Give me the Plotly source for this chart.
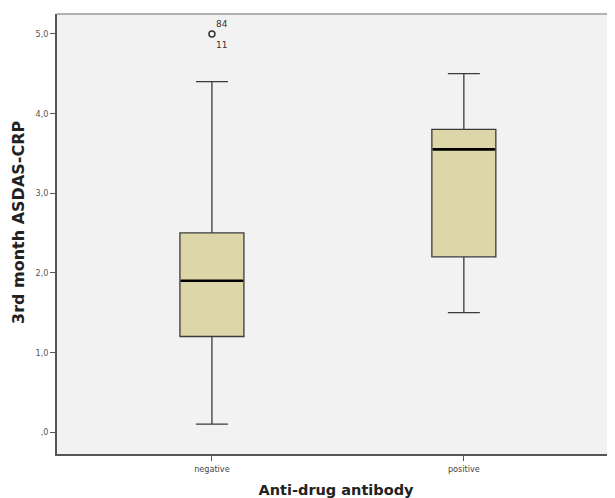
import plotly.graph_objects as go

categories = ["negative", "positive"]
q1 = [1.2, 2.2]
median = [1.9, 3.55]
q3 = [2.5, 3.8]
lower_whisker = [0.1, 1.5]
upper_whisker = [4.4, 4.5]
outlier_group = ["negative"]
outlier_value = [5.0]
outlier_ids = ["84", "11"]
y_ticks = [0, 1, 2, 3, 4, 5]
y_ticklabels = [",0", "1,0", "2,0", "3,0", "4,0", "5,0"]
x_title = "Anti-drug antibody"
y_title = "3rd month ASDAS-CRP"

BOX_W = 0.254
FILL = "#DCD6A8"
LINE = "#3a3a3a"

fig = go.Figure()
xs = list(range(len(categories)))
for i, c in enumerate(categories):
    fig.add_trace(go.Box(
        x=[i], q1=[q1[i]], median=[median[i]], q3=[q3[i]],
        lowerfence=[lower_whisker[i]], upperfence=[upper_whisker[i]],
        width=BOX_W, whiskerwidth=0.5, boxpoints=False,
        fillcolor=FILL, line=dict(color=LINE, width=1.3),
        showlegend=False, hoverinfo="skip",
    ))
    fig.add_trace(go.Scatter(
        x=[i - BOX_W / 2 + 0.004, i + BOX_W / 2 - 0.004], y=[median[i], median[i]],
        mode="lines", line=dict(color="#000", width=2.6),
        showlegend=False, hoverinfo="skip",
    ))

ox = [categories.index(g) for g in outlier_group]
fig.add_trace(go.Scatter(
    x=ox, y=outlier_value, mode="markers",
    marker=dict(symbol="circle-open", size=6, color="#333", line=dict(width=1.5)),
    showlegend=False, hoverinfo="skip",
))
for k, lab in enumerate(outlier_ids):
    fig.add_annotation(x=ox[0], y=outlier_value[0], text=lab, showarrow=False,
                       xanchor="left", yanchor="middle", xshift=2,
                       yshift=10 if k == 0 else -11,
                       font=dict(family="DejaVu Sans", size=9, color="#333"))

# y-axis title placed as an annotation (slightly above the plot centre, as in the reference)
fig.add_annotation(xref="paper", yref="paper", x=0, y=0.5, xshift=-39, yshift=12,
                   text="<b>" + y_title + "</b>", textangle=-90, showarrow=False,
                   xanchor="center", yanchor="middle",
                   font=dict(family="DejaVu Sans", size=16, color="#222"))

fig.update_layout(
    width=607, height=490,
    margin=dict(l=49, r=0, t=6, b=44),
    paper_bgcolor="white", plot_bgcolor="#F2F2F2",
    font=dict(family="DejaVu Sans", color="#444"),
    xaxis=dict(
        range=[-0.615, 1.6], tickvals=xs, ticktext=categories,
        ticks="outside", ticklen=5, tickcolor="#555", tickwidth=1.2,
        showline=True, linecolor="#555", linewidth=1.5,
        showgrid=False, zeroline=False,
        tickfont=dict(family="DejaVu Sans Condensed, DejaVu Sans", size=9, color="#444"),
        title=dict(text="<b>" + x_title + "</b>", standoff=13,
                   font=dict(family="DejaVu Sans", size=14.5, color="#222")),
    ),
    yaxis=dict(
        range=[-0.276, 5.25], tickvals=y_ticks, ticktext=y_ticklabels,
        ticks="outside", ticklen=5, tickcolor="#555", tickwidth=1.2,
        showline=True, linecolor="#555", linewidth=1.5,
        showgrid=False, zeroline=False,
        tickfont=dict(family="DejaVu Sans Condensed, DejaVu Sans", size=9, color="#555"),
    ),
    shapes=[dict(type="line", xref="paper", yref="paper", x0=0, x1=1, y0=1, y1=1,
                 line=dict(color="#999", width=1.5))],
)

fig.write_html("out.html")
